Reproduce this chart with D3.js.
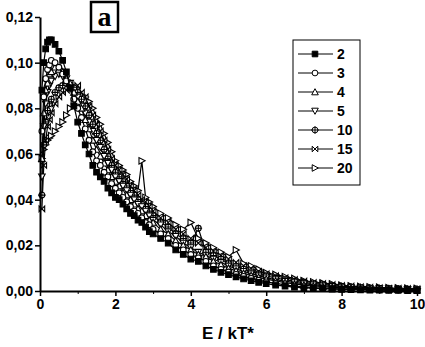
<!DOCTYPE html>
<html><head><meta charset="utf-8">
<script src="https://cdn.jsdelivr.net/npm/d3@7/dist/d3.min.js"></script>
<style>html,body{margin:0;padding:0;background:#fff;}svg{display:block;}</style>
</head><body>
<svg id="chart" width="425" height="347"></svg>
<script>
// ---- data ----
const E = [0.05,0.1,0.15,0.2,0.25,0.3,0.4,0.5,0.6,0.7,0.8,0.9,1.0,1.1,1.2,1.3,1.4,1.5,1.6,1.7,1.8,1.9,2.0,2.1,2.2,2.3,2.4,2.5,2.6,2.7,2.8,2.9,3.0,3.2,3.4,3.6,3.8,4.0,4.2,4.4,4.6,4.8,5.0,5.2,5.4,5.6,5.8,6.0,6.25,6.5,6.75,7.0,7.25,7.5,7.75,8.0,8.25,8.5,8.75,9.0,9.25,9.5,9.75,10.0];
const s2  = [0.088,0.100,0.106,0.109,0.110,0.110,0.108,0.105,0.101,0.096,0.089,0.081,0.074,0.069,0.064,0.060,0.055,0.052,0.050,0.048,0.045,0.043,0.041,0.040,0.038,0.036,0.034,0.033,0.031,0.030,0.028,0.026,0.025,0.023,0.021,0.018,0.016,0.014,0.013,0.011,0.0095,0.0082,0.0072,0.0062,0.0053,0.0045,0.0038,0.0032,0.0026,0.0021,0.0017,0.0014,0.0012,0.0010,0.0008,0.0007,0.0006,0.0005,0.0004,0.0004,0.0003,0.0003,0.0002,0.0002];
const s3  = [0.070,0.085,0.093,0.097,0.099,0.101,0.100,0.098,0.095,0.092,0.089,0.084,0.080,0.076,0.071,0.066,0.061,0.057,0.055,0.052,0.050,0.047,0.045,0.043,0.041,0.039,0.037,0.035,0.034,0.032,0.030,0.029,0.027,0.025,0.023,0.020,0.018,0.016,0.0145,0.013,0.011,0.0095,0.0083,0.0073,0.0064,0.0055,0.0047,0.0040,0.0033,0.0027,0.0022,0.0018,0.0015,0.0013,0.0011,0.0009,0.0008,0.0007,0.0006,0.0005,0.0005,0.0004,0.0004,0.0003];
const s4  = [0.058,0.078,0.088,0.091,0.095,0.096,0.098,0.097,0.096,0.093,0.091,0.087,0.083,0.080,0.075,0.071,0.066,0.062,0.059,0.056,0.053,0.050,0.048,0.046,0.043,0.042,0.040,0.038,0.036,0.035,0.033,0.031,0.030,0.027,0.025,0.022,0.020,0.018,0.016,0.015,0.013,0.0115,0.010,0.0088,0.0078,0.0068,0.0060,0.0052,0.0044,0.0037,0.0031,0.0026,0.0022,0.0019,0.0016,0.0014,0.0012,0.0010,0.0009,0.0008,0.0007,0.0006,0.0005,0.0004];
const s5  = [0.050,0.072,0.082,0.087,0.090,0.092,0.094,0.095,0.094,0.093,0.091,0.088,0.085,0.081,0.078,0.074,0.070,0.066,0.063,0.059,0.056,0.053,0.050,0.048,0.046,0.044,0.042,0.040,0.038,0.037,0.035,0.033,0.031,0.029,0.026,0.024,0.021,0.019,0.017,0.0155,0.014,0.0125,0.011,0.0097,0.0086,0.0076,0.0067,0.0058,0.0050,0.0043,0.0037,0.0032,0.0027,0.0023,0.0020,0.0017,0.0015,0.0013,0.0011,0.0010,0.0009,0.0008,0.0007,0.0006];
const s10 = [0.042,0.064,0.074,0.079,0.082,0.084,0.087,0.089,0.090,0.091,0.090,0.089,0.087,0.084,0.081,0.077,0.073,0.069,0.066,0.062,0.059,0.055,0.052,0.050,0.048,0.046,0.044,0.042,0.040,0.038,0.037,0.035,0.033,0.030,0.028,0.025,0.023,0.021,0.0275,0.017,0.0155,0.014,0.012,0.0108,0.0096,0.0085,0.0075,0.0066,0.0057,0.0050,0.0043,0.0037,0.0032,0.0028,0.0024,0.0021,0.0018,0.0016,0.0014,0.0012,0.0011,0.0010,0.0009,0.0008];
const s15 = [0.036,0.055,0.066,0.072,0.075,0.078,0.082,0.085,0.087,0.088,0.090,0.089,0.090,0.087,0.085,0.081,0.077,0.073,0.070,0.066,0.062,0.058,0.055,0.053,0.051,0.049,0.046,0.044,0.042,0.040,0.039,0.037,0.035,0.032,0.030,0.027,0.025,0.023,0.021,0.019,0.0175,0.0155,0.014,0.0125,0.011,0.0098,0.0086,0.0075,0.0066,0.0058,0.0050,0.0043,0.0037,0.0032,0.0028,0.0024,0.0021,0.0018,0.0016,0.0014,0.0012,0.0011,0.0010,0.0009];
const s20 = [0.058,0.062,0.064,0.066,0.067,0.068,0.070,0.072,0.074,0.077,0.080,0.083,0.085,0.086,0.085,0.083,0.080,0.076,0.073,0.069,0.065,0.061,0.057,0.055,0.053,0.051,0.048,0.046,0.044,0.057,0.041,0.039,0.037,0.034,0.032,0.029,0.027,0.030,0.023,0.021,0.019,0.017,0.015,0.018,0.012,0.011,0.0095,0.0080,0.0072,0.0063,0.0055,0.0045,0.0040,0.0035,0.0031,0.0025,0.0022,0.0020,0.0018,0.0016,0.0014,0.0013,0.0012,0.0011];
const seriesNames = ["2","3","4","5","10","15","20"];
const seriesValues = [s2,s3,s4,s5,s10,s15,s20];
const markerTypes = ["square","circle","triUp","triDown","circlePlus","bowtie","triRight"];
const xTicks = [0,2,4,6,8,10];
const xMinor = [1,3,5,7,9];
const yTicks = [0,0.02,0.04,0.06,0.08,0.10,0.12];
const xTitle = "E / kT*";
const panelLabel = "a";

// ---- drawing ----
const svg = d3.select("#chart");
const font = "'Liberation Sans', Arial, sans-serif";
const x = d3.scaleLinear().domain([0,10]).range([40,417]);
const y = d3.scaleLinear().domain([0,0.12]).range([291,17]);

function marker(type){
  const r = 2.8;
  switch(type){
    case "square": return `M${-r},${-r}h${2*r}v${2*r}h${-2*r}Z`;
    case "circle": return d3.symbol(d3.symbolCircle, 26)();
    case "triUp": return `M0,${-r-0.5}L${r+0.5},${r}L${-r-0.5},${r}Z`;
    case "triDown": return `M0,${r+0.5}L${r+0.5},${-r}L${-r-0.5},${-r}Z`;
    case "circlePlus": return d3.symbol(d3.symbolCircle, 26)() + `M0,${-r-1}V${r+1}M${-r-1},0H${r+1}`;
    case "bowtie": return `M${-r},${-r}L${r},${r}L${r},${-r}L${-r},${r}Z`;
    case "triRight": return `M${r+0.5},0L${-r},${-r-0.5}L${-r},${r+0.5}Z`;
  }
}

const line = d3.line().x(d=>x(d[0])).y(d=>y(d[1]));
// draw in reverse so series "2" ends on top
for(let k=seriesValues.length-1;k>=0;k--){
  const pts = E.map((e,i)=>[e,seriesValues[k][i]]);
  const g = svg.append("g");
  g.append("path").attr("d",line(pts)).attr("fill","none").attr("stroke","#000").attr("stroke-width",1.2);
  g.selectAll("path.m").data(pts).join("path").attr("class","m")
    .attr("transform",d=>`translate(${x(d[0])},${y(d[1])})`)
    .attr("d",marker(markerTypes[k]))
    .attr("fill",markerTypes[k]==="square"?"#000":"#fff")
    .attr("stroke","#000").attr("stroke-width",1.1);
}

// axes
const fmt = v => d3.format(".2f")(v).replace(".", ",");
const yAxis = svg.append("g").attr("transform","translate(40,0)")
  .call(d3.axisLeft(y).tickValues(yTicks).tickSize(5).tickSizeOuter(0).tickFormat(fmt));
const xAxis = svg.append("g").attr("transform","translate(0,291)")
  .call(d3.axisBottom(x).tickValues(xTicks).tickSize(5).tickSizeOuter(0).tickFormat(d3.format("d")));
svg.append("g").attr("transform","translate(0,291)")
  .call(d3.axisBottom(x).tickValues(xMinor).tickSize(3).tickSizeOuter(0).tickFormat(""))
  .select(".domain").remove();
[yAxis,xAxis].forEach(a=>{
  a.select(".domain").attr("stroke","#000").attr("stroke-width",2);
  a.selectAll(".tick line").attr("stroke","#000").attr("stroke-width",1.5);
  a.selectAll(".tick text").attr("fill","#000").attr("font-family",font).attr("font-weight","bold").attr("font-size",14);
});
yAxis.selectAll(".tick text").attr("x",-7);
xAxis.selectAll(".tick text").attr("y",8);

// axis title
svg.append("text").attr("x",228).attr("y",339).attr("text-anchor","middle")
  .attr("font-family",font).attr("font-weight","bold").attr("font-size",17).text(xTitle);

// panel label
svg.append("rect").attr("x",91).attr("y",2).attr("width",27).attr("height",30)
  .attr("fill","#fff").attr("stroke","#000").attr("stroke-width",2.5);
svg.append("text").attr("x",104.5).attr("y",26).attr("text-anchor","middle")
  .attr("font-family","'Liberation Serif','Times New Roman',serif").attr("font-weight","bold").attr("font-size",28).text(panelLabel);

// legend
const lg = svg.append("g");
lg.append("rect").attr("x",293).attr("y",40).attr("width",67).attr("height",145)
  .attr("fill","#fff").attr("stroke","#000").attr("stroke-width",1);
seriesNames.forEach((n,k)=>{
  const yy = 54 + k*19;
  lg.append("line").attr("x1",298).attr("x2",333).attr("y1",yy).attr("y2",yy).attr("stroke","#000").attr("stroke-width",1);
  lg.append("path").attr("transform",`translate(315,${yy})`).attr("d",marker(markerTypes[k]))
    .attr("fill",markerTypes[k]==="square"?"#000":"#fff").attr("stroke","#000");
  lg.append("text").attr("x",337).attr("y",yy+5).attr("font-family",font).attr("font-weight","bold")
    .attr("font-size",14).text(n);
});
</script>
</body></html>
